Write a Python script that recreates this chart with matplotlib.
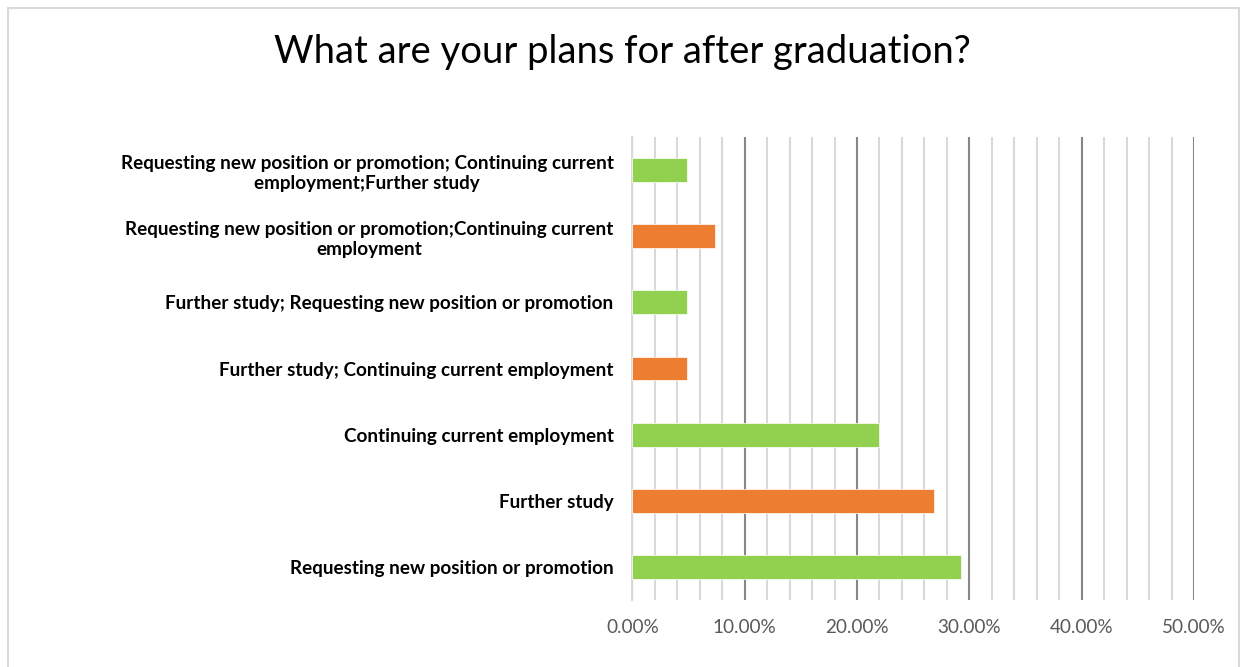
import matplotlib.pyplot as plt
from matplotlib.patches import Rectangle
from matplotlib.ticker import MultipleLocator, PercentFormatter

# Survey answers, bottom to top as they appear on the chart
categories = [
    "Requesting new position or promotion",
    "Further study",
    "Continuing current employment",
    "Further study; Continuing current employment",
    "Further study; Requesting new position or promotion",
    "Requesting new position or promotion;Continuing current\nemployment",
    "Requesting new position or promotion; Continuing current\nemployment;Further study",
]
shares = [29.27, 26.83, 21.95, 4.88, 4.88, 7.32, 4.88]
bar_colors = ["#92D050", "#ED7D31", "#92D050", "#ED7D31", "#92D050", "#ED7D31", "#92D050"]

plt.rcParams["font.family"] = ["Lato", "DejaVu Sans"]

fig = plt.figure(figsize=(12.44, 6.67), dpi=100)
ax = fig.add_axes([0.5083, 0.1004, 0.4515, 0.6942])

# chart frame
fig.patches.append(Rectangle((8 / 1244, -0.05), 1231 / 1244, 1.05 - 8 / 667,
                             transform=fig.transFigure, fill=False,
                             edgecolor="#d9d9d9", linewidth=1.5))

y = range(len(categories))
ax.barh(y, shares, height=0.36, color=bar_colors, edgecolor="white",
        linewidth=0.5, zorder=3)

ax.set_xlim(0, 50)
ax.set_ylim(-0.5, len(categories) - 0.5)
ax.xaxis.set_major_locator(MultipleLocator(10))
ax.xaxis.set_minor_locator(MultipleLocator(2))
ax.xaxis.set_major_formatter(PercentFormatter(decimals=2))
ax.grid(axis="x", which="minor", color="#d9d9d9", linewidth=1.5, zorder=0)
ax.grid(axis="x", which="major", color="#868686", linewidth=1.5, zorder=1)

ax.set_yticks(list(y))
ax.set_yticklabels(categories, fontsize=13.6, fontweight="bold",
                   multialignment="center", linespacing=1.25)
ax.tick_params(axis="y", length=0, pad=13.5)
ax.tick_params(axis="x", which="both", length=0, pad=14, labelsize=13.6,
               labelcolor="#595959")

for side in ["top", "right", "bottom"]:
    ax.spines[side].set_visible(False)
ax.spines["left"].set_color("#d9d9d9")
ax.spines["left"].set_linewidth(1.5)
ax.spines["left"].set_zorder(2)

fig.text(0.5, 0.922, "What are your plans for after graduation?",
         ha="center", va="center", fontsize=27.5, color="black")

fig.savefig("out.png", dpi=100, facecolor="white")
